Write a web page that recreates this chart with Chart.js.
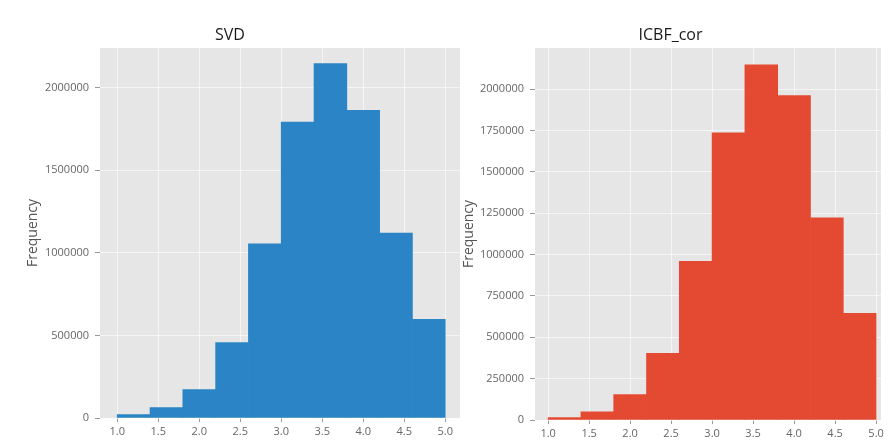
<!DOCTYPE html>
<html>
<head>
<meta charset="utf-8">
<script src="https://cdn.jsdelivr.net/npm/chart.js@4.4.1/dist/chart.umd.min.js"></script>
<style>
  html, body { margin: 0; padding: 0; background: #fff; }
  #wrap { position: relative; width: 889px; height: 441px; overflow: hidden; }
  canvas { position: absolute; top: 0; }
</style>
</head>
<body>
<div id="wrap">
  <canvas id="svdChart" width="462" height="441" style="left:0px"></canvas>
  <canvas id="icbfChart" width="429" height="441" style="left:460px"></canvas>
</div>
<script>
// histogram bins (rating 1..5, width 0.4) - bin centres
const binCenters = [1.2, 1.6, 2.0, 2.4, 2.8, 3.2, 3.6, 4.0, 4.4, 4.8];

// counts
const svdCounts = [21000, 63000, 172000, 456000, 1055000, 1792000, 2145000, 1863000, 1120000, 597000];
const icbfCounts = [14000, 50000, 153000, 403000, 959000, 1736000, 2147000, 1960000, 1222000, 645000];

// tick labels
const xTicks = [1.0, 1.5, 2.0, 2.5, 3.0, 3.5, 4.0, 4.5, 5.0];
const svdYTicks = [0, 500000, 1000000, 1500000, 2000000];
const icbfYTicks = [0, 250000, 500000, 750000, 1000000, 1250000, 1500000, 1750000, 2000000];

const FONT = "'Open Sans', 'DejaVu Sans', sans-serif";

// grey panel behind the plot (ggplot look)
const panelBg = {
  id: 'panelBg',
  beforeDraw(chart) {
    const { ctx, chartArea: a } = chart;
    ctx.save();
    ctx.fillStyle = '#E6E6E6';
    ctx.fillRect(a.left, a.top, a.right - a.left, a.bottom - a.top);
    ctx.restore();
  }
};

function makeHist(canvasId, title, counts, yTicks, color, cfg) {
  const ctx = document.getElementById(canvasId).getContext('2d');
  return new Chart(ctx, {
    type: 'bar',
    data: {
      datasets: [{
        label: title,
        data: binCenters.map((x, i) => ({ x, y: counts[i] })),
        backgroundColor: color,
        borderWidth: 0,
        barPercentage: 1,
        categoryPercentage: 1
      }]
    },
    plugins: [panelBg],
    options: {
      responsive: false,
      animation: false,
      devicePixelRatio: 1,
      layout: { padding: { left: 0, right: cfg.padRight, top: 0, bottom: 0 } },
      plugins: {
        legend: { display: false },
        tooltip: { enabled: false },
        title: {
          display: true,
          text: title,
          color: '#1a1a1a',
          font: { family: FONT, size: 16, weight: 'normal' },
          padding: { top: 26, bottom: 2.8 }
        }
      },
      scales: {
        x: {
          type: 'linear',
          offset: false,
          min: cfg.xMin,
          max: cfg.xMax,
          border: { display: false },
          grid: { color: 'rgba(255,255,255,0.6)', lineWidth: 1, tickColor: '#999', tickLength: 4, offset: false },
          ticks: {
            color: '#666',
            font: { family: FONT, size: 11 },
            padding: 3,
            maxRotation: 0,
            autoSkip: false,
            callback: v => Number(v).toFixed(1)
          },
          afterBuildTicks: s => { s.ticks = xTicks.map(v => ({ value: v })); },
          afterFit: s => { s.height = cfg.xAxisHeight; }
        },
        y: {
          min: 0,
          max: cfg.yMax,
          border: { display: false },
          grid: { color: 'rgba(255,255,255,0.6)', lineWidth: 1, tickColor: '#999', tickLength: 5 },
          ticks: {
            color: '#666',
            font: { family: FONT, size: 11 },
            padding: 6,
            autoSkip: false,
            callback: v => String(v)
          },
          title: {
            display: true,
            text: 'Frequency',
            color: '#555',
            font: { family: FONT, size: 14 },
            padding: { top: cfg.yTitlePad, bottom: 0 }
          },
          afterBuildTicks: s => { s.ticks = yTicks.map(v => ({ value: v })); },
          afterFit: s => { s.width = cfg.yAxisWidth; }
        }
      }
    }
  });
}

makeHist('svdChart', 'SVD', svdCounts, svdYTicks, '#2A84C5', {
  xMin: 0.79, xMax: 5.18, yMax: 2240000,
  yAxisWidth: 100, xAxisHeight: 23, padRight: 2, yTitlePad: 24.6
});

makeHist('icbfChart', 'ICBF_cor', icbfCounts, icbfYTicks, '#E44A32', {
  xMin: 0.84, xMax: 5.06, yMax: 2248000,
  yAxisWidth: 75, xAxisHeight: 21, padRight: 8, yTitlePad: 0.6
});
</script>
</body>
</html>
